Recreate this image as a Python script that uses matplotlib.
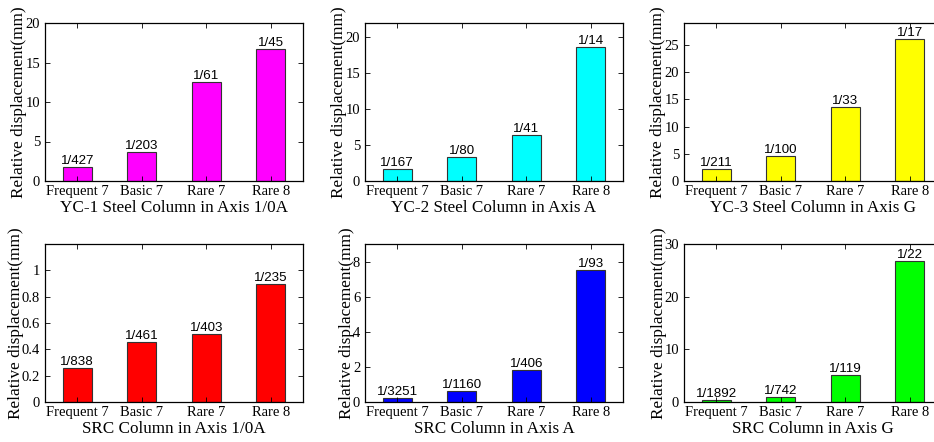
import matplotlib.pyplot as plt

cases = ["Frequent 7", "Basic 7", "Rare 7", "Rare 8"]

yc1_disp = [1.82, 3.72, 12.47, 16.74]
yc1_ratio = ["1/427", "1/203", "1/61", "1/45"]
yc2_disp = [1.62, 3.39, 6.45, 18.7]
yc2_ratio = ["1/167", "1/80", "1/41", "1/14"]
yc3_disp = [2.14, 4.6, 13.5, 26.0]
yc3_ratio = ["1/211", "1/100", "1/33", "1/17"]
src1_disp = [0.26, 0.456, 0.52, 0.899]
src1_ratio = ["1/838", "1/461", "1/403", "1/235"]
srcA_disp = [0.25, 0.62, 1.8, 7.52]
srcA_ratio = ["1/3251", "1/1160", "1/406", "1/93"]
srcG_disp = [0.44, 1.0, 5.07, 26.8]
srcG_ratio = ["1/1892", "1/742", "1/119", "1/22"]

titles = ["YC-1 Steel Column in Axis 1/0A", "YC-2 Steel Column in Axis A",
          "YC-3 Steel Column in Axis G", "SRC Column in Axis 1/0A",
          "SRC Column in Axis A", "SRC Column in Axis G"]

panels = [
    (yc1_disp, yc1_ratio, "#ff00ff", 20, [0, 5, 10, 15, 20], ["0", "5", "10", "15", "20"]),
    (yc2_disp, yc2_ratio, "#00ffff", 22, [0, 5, 10, 15, 20], ["0", "5", "10", "15", "20"]),
    (yc3_disp, yc3_ratio, "#ffff00", 29, [0, 5, 10, 15, 20, 25], ["0", "5", "10", "15", "20", "25"]),
    (src1_disp, src1_ratio, "#ff0000", 1.2, [0, 0.2, 0.4, 0.6, 0.8, 1], ["0", "0.2", "0.4", "0.6", "0.8", "1"]),
    (srcA_disp, srcA_ratio, "#0000ff", 9, [0, 2, 4, 6, 8], ["0", "2", "4", "6", "8"]),
    (srcG_disp, srcG_ratio, "#00ff00", 30, [0, 10, 20, 30], ["0", "10", "20", "30"]),
]

serif = "Liberation Serif"
sans = "Liberation Sans"

fig = plt.figure(figsize=(9.34, 4.42), dpi=100)

lefts = [45, 365, 684]
tops = [23, 244]
W, H = 258, 158

for i, (vals, ratios, col, ymax, yt, ytl) in enumerate(panels):
    r, c = divmod(i, 3)
    x0 = lefts[c] / 934
    y0 = 1 - (tops[r] + H) / 442
    ax = fig.add_axes([x0, y0, W / 934, H / 442])
    xs = range(1, 5)
    ax.bar(xs, vals, width=0.45, color=col, edgecolor="#333333", linewidth=0.8)
    # ratio labels sit right on top of the bars
    for x, v, t in zip(xs, vals, ratios):
        ax.text(x, v, t, ha="center", va="bottom", fontsize=9.6, family=sans)
    ax.set_xlim(0.5, 4.5)
    ax.set_ylim(0, ymax)
    ax.set_xticks(list(xs))
    ax.set_xticklabels(cases, family=serif, fontsize=10.5)
    ax.set_yticks(yt)
    ax.set_yticklabels(ytl, family=serif, fontsize=10.5)
    ax.tick_params(direction="in", top=True, right=True, length=3.5, width=0.6)
    ax.tick_params(axis="x", pad=3)
    ax.tick_params(axis="y", pad=3.5)
    for s in ax.spines.values():
        s.set_linewidth(0.9)
    ax.set_xlabel(titles[i], family=serif, fontsize=12.3, labelpad=1.5)
    ax.set_ylabel("Relative displacement(mm)", family=serif, fontsize=12.4, labelpad=-1.5)

fig.savefig("out.png", dpi=100)
